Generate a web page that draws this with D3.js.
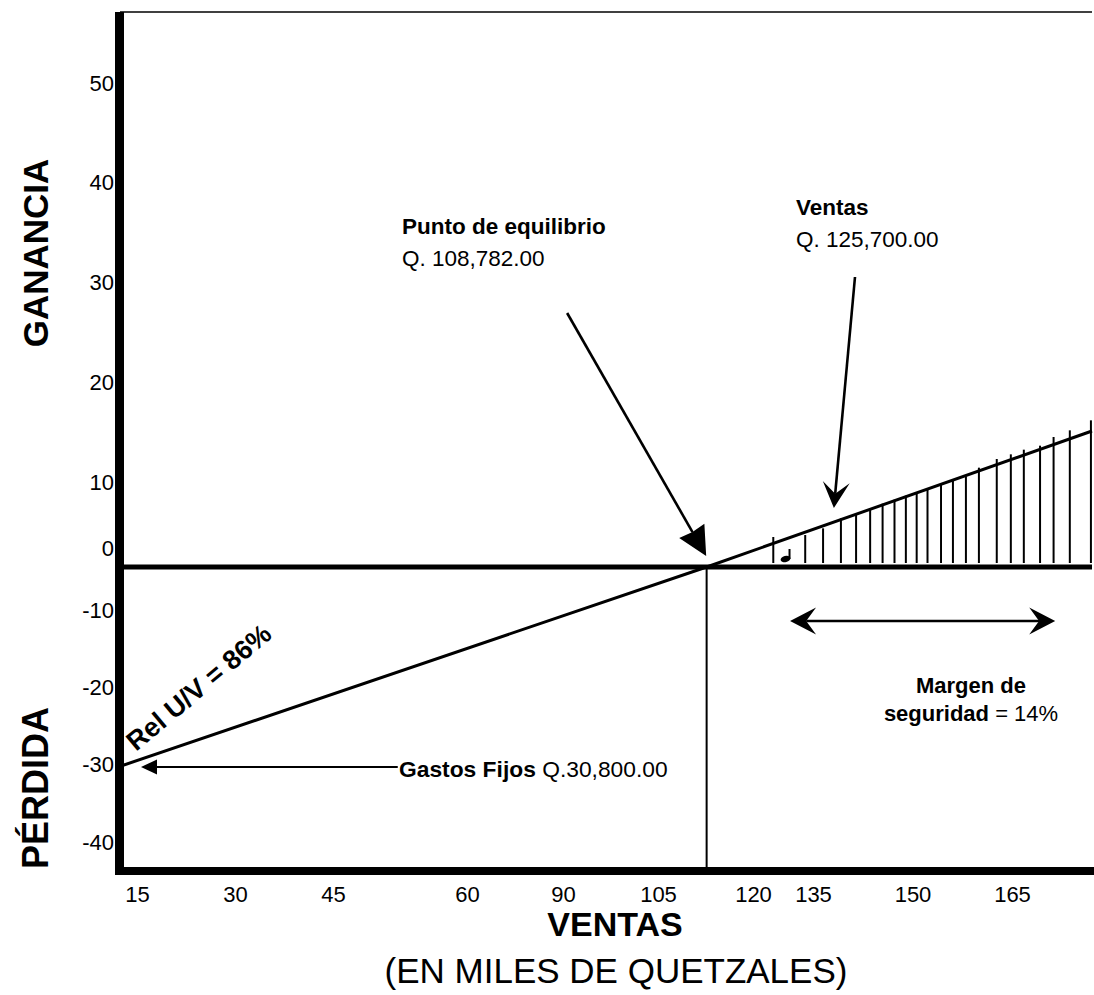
<!DOCTYPE html>
<html>
<head>
<meta charset="utf-8">
<script src="https://cdn.jsdelivr.net/npm/d3@7"></script>
<style>
  body { margin: 0; background: #fff; }
  svg { display: block; font-family: "Liberation Sans", Arial, Helvetica, sans-serif; }
</style>
</head>
<body>
<div id="chart"></div>
<script>
// tick labels as printed on the original drawing
var tickSales = [15, 30, 45, 60, 90, 105, 120, 135, 150, 165];
var tickProfit = [50, 40, 30, 20, 10, 0, -10, -20, -30, -40];

// Rel U/V line (miles de Q vs ganancia)
var relSales = [0, 108.782, 180];
var relProfit = [-30, 0, 20.4];

var breakEvenQ = 108782;
var salesQ = 125700;
var fixedQ = 30800;
var relUV = 86;
var safetyMargin = 14;

// hatching of the profit area
var hatchSales = [121.1, 127.0, 130.3, 133.6, 136.4, 139.0, 141.3, 143.5, 145.6, 147.6, 149.6,
                  152.1, 154.3, 156.7, 159.1, 162.4, 165.0, 167.4, 170.4, 172.9, 175.9, 179.8];
var hatchTop = [4.5, 4.8, 5.8, 7.3, 8.0, 8.8, 9.5, 10.1, 10.7, 11.1, 11.8,
                12.6, 13.0, 13.6, 14.9, 16.2, 16.9, 17.6, 18.2, 19.5, 20.5, 22.0];
var noteSales = 124.1;
var noteTop = [1.2, 2.7];

// annotation arrows [from, to] in (sales, profit)
var puntoArrow = [[83.0, 38.1], [108.7, 1.65]];
var ventasArrow = [[136.2, 43.5], [132.3, 8.85]];
var gastosArrow = [[51.7, -30], [4.25, -30]];
var margenArrow = [[124.2, -8.1], [173.2, -8.1]];

var width = 1094, height = 995;
var fmt = d3.format(",.2f");

var svg = d3.select("#chart").append("svg")
    .attr("width", width)
    .attr("height", height);

// scales for the marks
var x = d3.scaleLinear().domain([0, 180]).range([118, 1092]);
var y = d3.scaleLinear().domain([-30, 0]).range([767, 567]);

// the printed labels are hand placed, so they get their own scales
var xLabel = d3.scaleLinear().domain([15, 45, 60, 90, 120, 135, 165]).range([137, 333, 467, 563, 753, 813, 1012]);
var yLabel = d3.scaleLinear().domain([-40, -10, 0, 10, 50]).range([842, 610, 548, 482, 83]);

// frame
svg.append("line")
    .attr("x1", 120).attr("x2", 1092)
    .attr("y1", 12).attr("y2", 12)
    .attr("stroke", "#000").attr("stroke-width", 1.5);
svg.append("rect")
    .attr("x", 115).attr("y", 12)
    .attr("width", 9).attr("height", 863)
    .attr("fill", "#000");
svg.append("rect")
    .attr("x", 115).attr("y", 867)
    .attr("width", width - 115).attr("height", 8)
    .attr("fill", "#000");

// zero line
svg.append("line")
    .attr("x1", 124).attr("x2", x(180))
    .attr("y1", y(0)).attr("y2", y(0))
    .attr("stroke", "#000").attr("stroke-width", 5);

// break even vertical
svg.append("line")
    .attr("x1", x(breakEvenQ / 1000)).attr("x2", x(breakEvenQ / 1000))
    .attr("y1", y(0)).attr("y2", 867)
    .attr("stroke", "#000").attr("stroke-width", 2);

// hatch
svg.append("g").selectAll("line")
    .data(hatchSales)
    .enter().append("line")
    .attr("x1", function(d) { return x(d); })
    .attr("x2", function(d) { return x(d); })
    .attr("y1", y(0) - 4)
    .attr("y2", function(d, i) { return y(hatchTop[i]); })
    .attr("stroke", "#000")
    .attr("stroke-width", 2);

svg.append("line")
    .attr("x1", x(noteSales)).attr("x2", x(noteSales))
    .attr("y1", y(noteTop[0])).attr("y2", y(noteTop[1]))
    .attr("stroke", "#000").attr("stroke-width", 2);
svg.append("ellipse")
    .attr("cx", x(noteSales) - 4).attr("cy", y(noteTop[0]))
    .attr("rx", 5).attr("ry", 3.2)
    .attr("transform", "rotate(-15," + (x(noteSales) - 4) + "," + y(noteTop[0]) + ")")
    .attr("fill", "#000");

// Rel U/V line
var line = d3.line()
    .x(function(d) { return x(d[0]); })
    .y(function(d) { return y(d[1]); });
svg.append("path")
    .datum(relSales.map(function(d, i) { return [d, relProfit[i]]; }))
    .attr("d", line)
    .attr("fill", "none")
    .attr("stroke", "#000")
    .attr("stroke-width", 3);

// arrows
function arrowHead(tip, from, len, half, notch) {
    var dx = tip[0] - from[0], dy = tip[1] - from[1];
    var L = Math.sqrt(dx * dx + dy * dy);
    var ux = dx / L, uy = dy / L;
    var bx = tip[0] - ux * len, by = tip[1] - uy * len;
    var nx = tip[0] - ux * len * notch, ny = tip[1] - uy * len * notch;
    var p = [[tip[0], tip[1]],
             [bx - uy * half, by + ux * half],
             [nx, ny],
             [bx + uy * half, by - ux * half]];
    svg.append("path")
        .attr("d", "M" + p.join("L") + "Z")
        .attr("fill", "#000");
    return [nx, ny];
}

function arrow(pts, len, half, notch, both, sw) {
    var a = [x(pts[0][0]), y(pts[0][1])];
    var b = [x(pts[1][0]), y(pts[1][1])];
    var end = arrowHead(b, a, len, half, notch);
    var start = a;
    if (both) start = arrowHead(a, b, len, half, notch);
    svg.append("line")
        .attr("x1", start[0]).attr("y1", start[1])
        .attr("x2", end[0]).attr("y2", end[1])
        .attr("stroke", "#000").attr("stroke-width", sw);
}

arrow(puntoArrow, 29, 14.5, 0.95, false, 2.6);
arrow(ventasArrow, 26, 13.5, 0.55, false, 2.6);
arrow(gastosArrow, 16, 7.5, 1, false, 2);
arrow(margenArrow, 26, 13.5, 0.62, true, 2.4);

// axes
var xAxis = svg.append("g")
    .attr("transform", "translate(0,886)")
    .call(d3.axisBottom(xLabel).tickValues(tickSales).tickSize(0).tickPadding(0)
        .tickFormat(function(d) { return "" + d; }));
xAxis.select(".domain").remove();
xAxis.selectAll("text")
    .style("font-size", "22px")
    .style("font-family", "Liberation Sans, Arial, sans-serif")
    .attr("fill", "#000");

var yAxis = svg.append("g")
    .attr("transform", "translate(115,0)")
    .call(d3.axisLeft(yLabel).tickValues(tickProfit).tickSize(0).tickPadding(1)
        .tickFormat(function(d) { return "" + d; }));
yAxis.select(".domain").remove();
yAxis.selectAll("text")
    .style("font-size", "22px")
    .style("font-family", "Liberation Sans, Arial, sans-serif")
    .attr("fill", "#000");

// axis titles
svg.append("text")
    .attr("transform", "translate(48,253) rotate(-90)")
    .attr("text-anchor", "middle")
    .attr("font-size", 35).attr("font-weight", "bold")
    .text("GANANCIA");
svg.append("text")
    .attr("transform", "translate(48,788) rotate(-90)")
    .attr("text-anchor", "middle")
    .attr("font-size", 36).attr("font-weight", "bold")
    .text("PÉRDIDA");
svg.append("text")
    .attr("x", 615).attr("y", 936)
    .attr("text-anchor", "middle")
    .attr("font-size", 34).attr("font-weight", "bold")
    .text("VENTAS");
svg.append("text")
    .attr("x", 616).attr("y", 983)
    .attr("text-anchor", "middle")
    .attr("font-size", 35)
    .text("(EN MILES DE QUETZALES)");

// annotations
function label(xp, yp, bold, plain, anchor, size) {
    var t = svg.append("text")
        .attr("x", xp).attr("y", yp)
        .attr("font-size", size || 22)
        .attr("text-anchor", anchor || "start");
    if (bold) t.append("tspan").attr("font-weight", "bold").text(bold);
    if (plain) t.append("tspan").text(plain);
    return t;
}

label(402, 234, "Punto de equilibrio", null, "start", 22.5);
label(402, 266, null, "Q. " + fmt(breakEvenQ), "start", 22.5);
label(796, 215, "Ventas", null, "start", 22.5);
label(796, 247, null, "Q. " + fmt(salesQ), "start", 22.5);
label(399, 777, "Gastos Fijos", " Q." + fmt(fixedQ), "start", 22.8);
label(971, 693, "Margen de", null, "middle");
label(971, 721, "seguridad", " = " + safetyMargin + "%", "middle");

svg.append("text")
    .attr("transform", "translate(136,752) rotate(-40)")
    .attr("font-size", 27).attr("font-weight", "bold")
    .text("Rel U/V = " + relUV + "%");
</script>
</body>
</html>
